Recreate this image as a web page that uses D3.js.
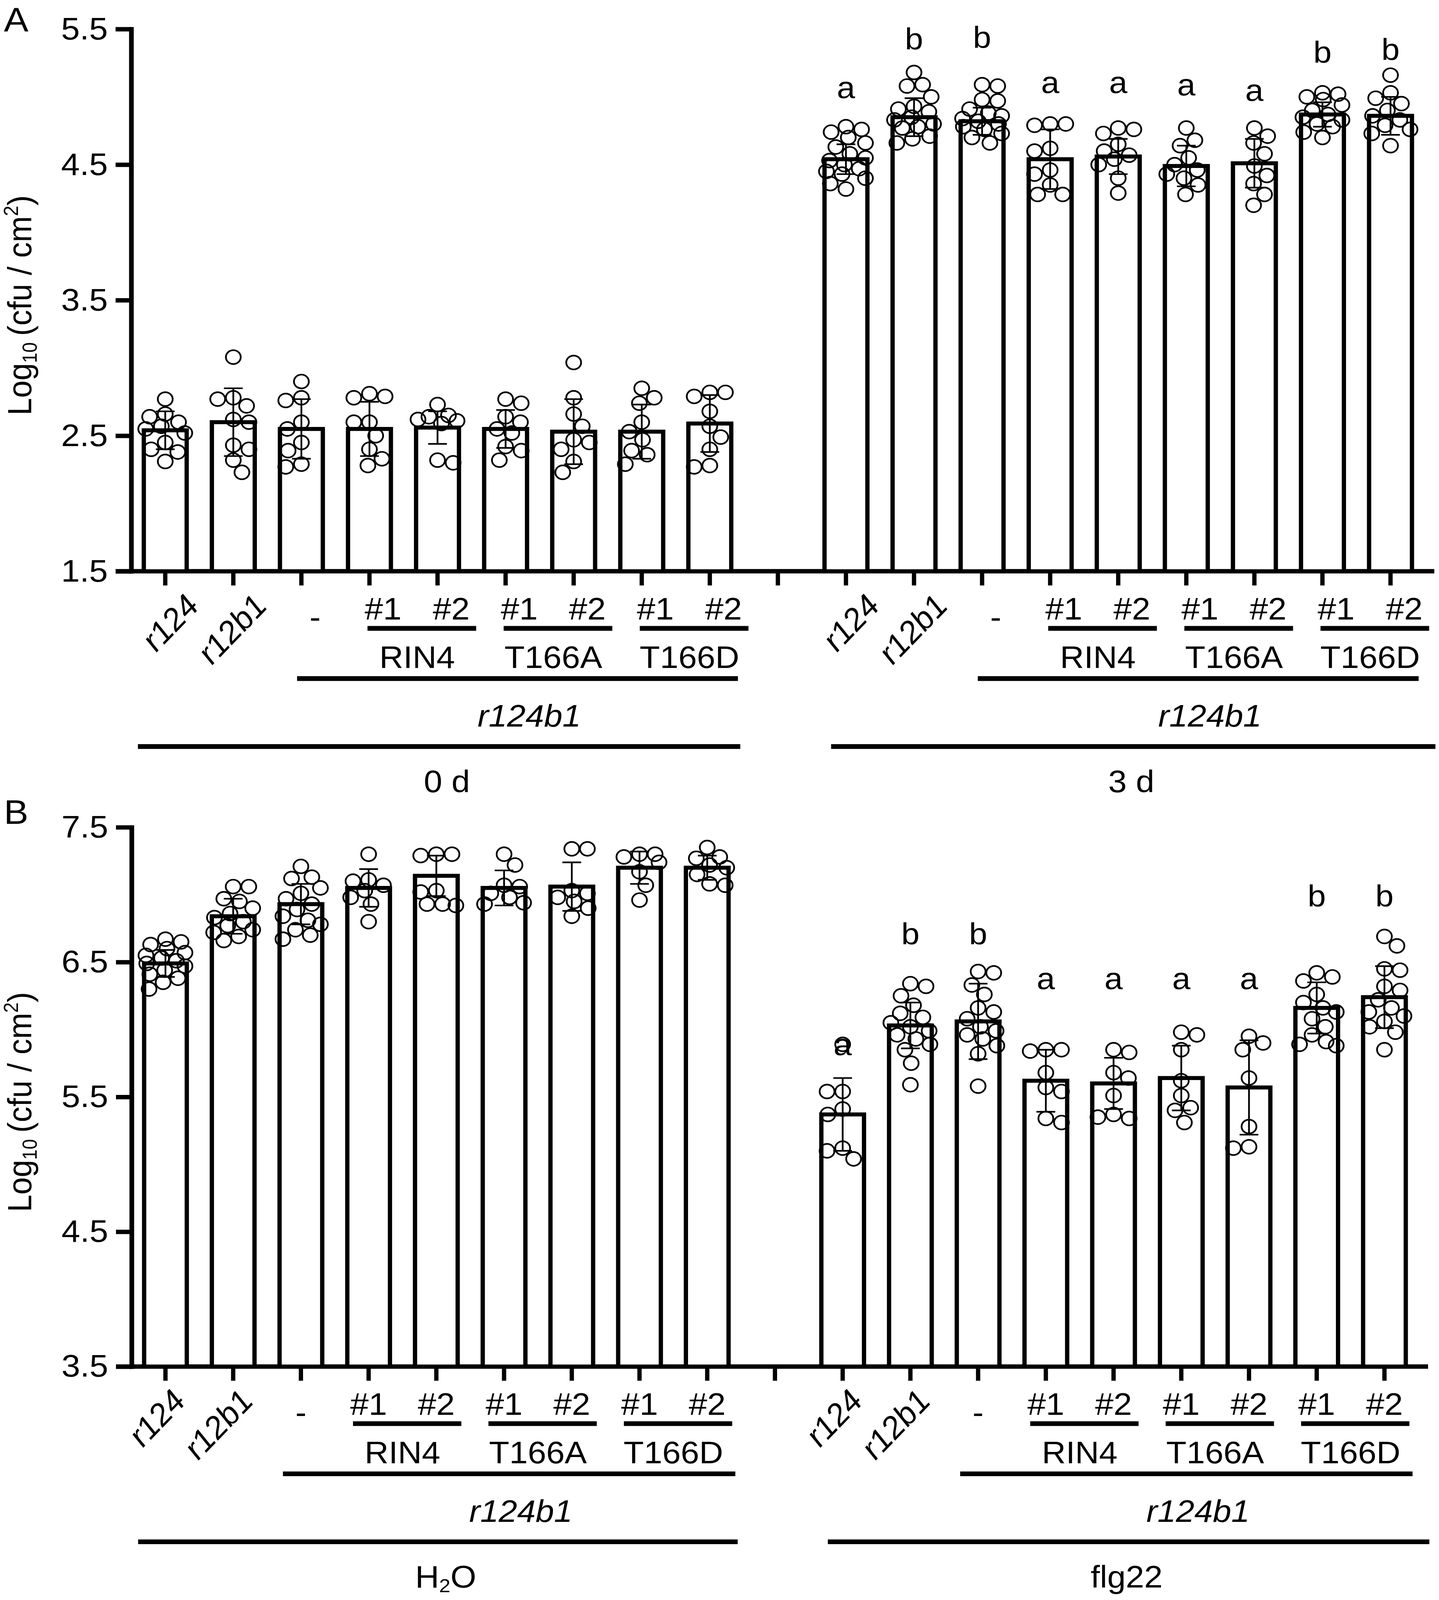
<!DOCTYPE html>
<html>
<head>
<meta charset="utf-8">
<script src="https://cdn.jsdelivr.net/npm/d3@7"></script>
<style>
  html, body { margin: 0; padding: 0; background: #fff; overflow: hidden; }
  svg { display: block; }
  text { font-family: "Liberation Sans", Arial, Helvetica, sans-serif; fill: #000; }
</style>
</head>
<body>
<div id="fig"></div>
<script>

// ======================= //
// DATA
// ======================= //

// categories (same 9 genotypes on each side of the gap)
var groups = ["r124", "r12b1", "-", "RIN4 #1", "RIN4 #2", "T166A #1", "T166A #2", "T166D #1", "T166D #2"]
var slots = groups.map(function(g){ return "L " + g }).concat(["gap"], groups.map(function(g){ return "R " + g }))
var constructs = ["RIN4", "T166A", "T166D"]
var lineLabels = ["#1", "#2"]

// tick labels
var ticksA = [1.5, 2.5, 3.5, 4.5, 5.5]
var ticksB = [3.5, 4.5, 5.5, 6.5, 7.5]

// panel A, 0 d
var meanA0 = [2.54, 2.60, 2.55, 2.55, 2.56, 2.55, 2.53, 2.53, 2.59]
var sdA0 = [0.14, 0.25, 0.22, 0.20, 0.12, 0.14, 0.24, 0.20, 0.21]
var ptsA0 = [
  [2.77, 2.66, 2.64, 2.60, 2.57, 2.55, 2.52, 2.45, 2.40, 2.38, 2.31],
  [3.08, 2.78, 2.77, 2.72, 2.62, 2.60, 2.43, 2.40, 2.32, 2.23],
  [2.90, 2.78, 2.76, 2.60, 2.55, 2.45, 2.39, 2.29, 2.27],
  [2.81, 2.79, 2.78, 2.60, 2.60, 2.50, 2.40, 2.33, 2.28],
  [2.73, 2.65, 2.64, 2.62, 2.61, 2.59, 2.32, 2.30],
  [2.77, 2.74, 2.64, 2.60, 2.55, 2.52, 2.42, 2.39, 2.32],
  [3.04, 2.78, 2.66, 2.57, 2.47, 2.45, 2.40, 2.31, 2.23],
  [2.85, 2.78, 2.74, 2.60, 2.53, 2.47, 2.39, 2.36, 2.29],
  [2.82, 2.82, 2.79, 2.68, 2.57, 2.49, 2.40, 2.28, 2.27]
]

// panel A, 3 d
var meanA3 = [4.54, 4.85, 4.82, 4.54, 4.56, 4.49, 4.51, 4.87, 4.86]
var sdA3 = [0.11, 0.14, 0.10, 0.22, 0.13, 0.15, 0.18, 0.09, 0.14]
var ptsA3 = [
  [4.78, 4.76, 4.74, 4.70, 4.66, 4.63, 4.58, 4.55, 4.53, 4.50, 4.47, 4.45, 4.43, 4.40, 4.36, 4.32],
  [5.18, 5.09, 5.08, 5.00, 4.93, 4.91, 4.89, 4.85, 4.83, 4.80, 4.78, 4.77, 4.71, 4.69, 4.66],
  [5.09, 5.08, 4.98, 4.97, 4.91, 4.88, 4.86, 4.84, 4.82, 4.80, 4.78, 4.76, 4.73, 4.70, 4.66],
  [4.80, 4.80, 4.79, 4.62, 4.60, 4.46, 4.43, 4.35, 4.28, 4.28],
  [4.77, 4.76, 4.73, 4.65, 4.60, 4.57, 4.54, 4.50, 4.40, 4.29],
  [4.77, 4.68, 4.64, 4.55, 4.50, 4.46, 4.43, 4.40, 4.35, 4.28],
  [4.77, 4.71, 4.66, 4.58, 4.49, 4.42, 4.36, 4.28, 4.20],
  [5.03, 5.02, 5.00, 4.98, 4.94, 4.90, 4.87, 4.85, 4.83, 4.80, 4.78, 4.74, 4.70],
  [5.16, 5.03, 4.99, 4.95, 4.90, 4.86, 4.83, 4.79, 4.76, 4.73, 4.64]
]
var lettersA3 = ["a", "b", "b", "a", "a", "a", "a", "b", "b"]
var letterValA3 = [4.99, 5.35, 5.36, 5.03, 5.03, 5.01, 4.97, 5.25, 5.27]

// panel B, H2O
var meanBw = [6.49, 6.84, 6.93, 7.05, 7.14, 7.05, 7.06, 7.20, 7.20]
var sdBw = [0.10, 0.13, 0.15, 0.14, 0.15, 0.13, 0.18, 0.12, 0.09]
var ptsBw = [
  [6.67, 6.65, 6.63, 6.60, 6.57, 6.55, 6.53, 6.51, 6.49, 6.47, 6.44, 6.41, 6.38, 6.35, 6.30],
  [7.06, 7.06, 6.97, 6.95, 6.90, 6.86, 6.83, 6.80, 6.77, 6.74, 6.72, 6.69, 6.66],
  [7.21, 7.13, 7.12, 7.05, 7.01, 6.97, 6.93, 6.89, 6.84, 6.81, 6.78, 6.74, 6.70, 6.67],
  [7.30, 7.11, 7.10, 7.07, 7.03, 6.98, 6.93, 6.80],
  [7.30, 7.30, 7.29, 7.03, 7.02, 6.93, 6.93, 6.92],
  [7.30, 7.22, 7.07, 7.06, 7.01, 6.98, 6.94, 6.93],
  [7.34, 7.34, 7.03, 7.01, 6.98, 6.95, 6.90, 6.84],
  [7.30, 7.30, 7.28, 7.24, 7.17, 7.07, 6.96],
  [7.35, 7.28, 7.27, 7.22, 7.20, 7.15, 7.08, 7.07]
]

// panel B, flg22
var meanBf = [5.37, 6.03, 6.06, 5.62, 5.60, 5.64, 5.57, 6.16, 6.24]
var sdBf = [0.27, 0.17, 0.28, 0.23, 0.19, 0.24, 0.35, 0.19, 0.23]
var ptsBf = [
  [5.89, 5.54, 5.54, 5.41, 5.37, 5.12, 5.10, 5.04],
  [6.34, 6.32, 6.25, 6.18, 6.12, 6.09, 6.05, 6.02, 5.99, 5.96, 5.93, 5.89, 5.85, 5.75, 5.59],
  [6.43, 6.42, 6.33, 6.26, 6.16, 6.13, 6.08, 6.02, 5.99, 5.96, 5.93, 5.88, 5.82, 5.58],
  [5.85, 5.85, 5.84, 5.68, 5.57, 5.54, 5.34, 5.31],
  [5.85, 5.83, 5.68, 5.64, 5.51, 5.37, 5.35, 5.34],
  [5.98, 5.96, 5.85, 5.62, 5.51, 5.42, 5.40, 5.31],
  [5.95, 5.90, 5.85, 5.64, 5.28, 5.13, 5.12],
  [6.42, 6.39, 6.36, 6.26, 6.20, 6.16, 6.13, 6.08, 6.02, 5.96, 5.91, 5.89, 5.88],
  [6.69, 6.62, 6.45, 6.44, 6.32, 6.29, 6.22, 6.16, 6.13, 6.10, 6.06, 6.02, 5.98, 5.85]
]
var lettersBf = ["a", "b", "b", "a", "a", "a", "a", "b", "b"]
var letterValBf = [5.81, 6.63, 6.63, 6.30, 6.30, 6.30, 6.30, 6.91, 6.91]


// ======================= //
// SVG AREA
// ======================= //

// the figure is laid out on a 3685 x 4400 sheet and stretched to the visible window
var W = 3685, H = 4400
var svg = d3.select("#fig")
  .append("svg")
    .attr("viewBox", "0 0 " + W + " " + H)
    .attr("preserveAspectRatio", "none")
    .attr("width", window.innerWidth || W)
    .attr("height", window.innerHeight || H)
svg.append("rect").attr("width", W).attr("height", H).attr("fill", "#fff")

var panels = [
  { letter: "A", letterY: 87, yDomain: [1.5, 5.5], yRange: [1571, 80], xRange: [336, 3648], ticks: ticksA, shift: 35,
    sides: [
      { side: "L", title: ["0 d"], mean: meanA0, sd: sdA0, pts: ptsA0 },
      { side: "R", title: ["3 d"], mean: meanA3, sd: sdA3, pts: ptsA3, letters: lettersA3, letterVal: letterValA3 }
    ] },
  { letter: "B", letterY: 2266, yDomain: [3.5, 7.5], yRange: [3758, 2275], xRange: [337, 3632], ticks: ticksB, shift: 0,
    sides: [
      { side: "L", title: ["H", "2", "O"], mean: meanBw, sd: sdBw, pts: ptsBw },
      { side: "R", title: ["flg22"], mean: meanBf, sd: sdBf, pts: ptsBf, letters: lettersBf, letterVal: letterValBf }
    ] }
]

var FS = 86


// simple beeswarm: spread overlapping points sideways, inside the bar
function swarm(vals, y, r, maxW) {
  var placed = []
  var order = vals.map(function(v){ return { v: v, py: y(v) } })
    .sort(function(a, b){ return a.py - b.py })
  order.forEach(function(p, i) {
    var best = 0, bestCost = Infinity
    for (var k = 0; k <= maxW; k += 2) {
      var cands = k === 0 ? [0] : (i % 2 ? [k, -k] : [-k, k])
      cands.forEach(function(dx) {
        var cost = 0
        placed.forEach(function(q) {
          var d = Math.hypot(dx - q.dx, p.py - q.py)
          if (d < 2 * r) cost += 2 * r - d
        })
        if (cost < bestCost) { bestCost = cost; best = dx }
      })
      if (bestCost === 0) break
    }
    p.dx = best
    placed.push(p)
  })
  return placed
}


function drawPanel(p) {

  var g = svg.append("g")

  // ======================= //
  // AXIS and SCALES
  // ======================= //

  var x = d3.scaleBand()
    .domain(slots)
    .range(p.xRange)
    .paddingInner(0.37)
    .paddingOuter(0.185)
  var y = d3.scaleLinear()
    .domain(p.yDomain)
    .range(p.yRange)
  var base = p.yRange[0]
  var cx = function(side, i) { return x(side + " " + groups[i]) + x.bandwidth() / 2 }

  // y axis
  var ya = g.append("g")
    .attr("transform", "translate(" + p.xRange[0] + ",0)")
    .call(d3.axisLeft(y).tickValues(p.ticks).tickSize(40).tickSizeOuter(0).tickPadding(20).tickFormat(d3.format(".1f")))
  ya.attr("font-family", null).attr("font-size", null)
  ya.select(".domain").attr("stroke", "#000").attr("stroke-width", 12).attr("stroke-linecap", "square")
  ya.selectAll(".tick line").attr("stroke", "#000").attr("stroke-width", 12)
  ya.selectAll(".tick text").attr("font-size", FS).attr("fill", "#000")

  // x axis: ticks only, the line is drawn longer by hand
  var xa = g.append("g")
    .attr("transform", "translate(0," + base + ")")
    .call(d3.axisBottom(x).tickSize(39).tickSizeOuter(0).tickFormat(""))
  xa.select(".domain").remove()
  xa.selectAll(".tick text").remove()
  xa.selectAll(".tick line").attr("stroke", "#000").attr("stroke-width", 11)
  g.append("line")
    .attr("x1", p.xRange[0] - 40).attr("x2", p.xRange[1] + 25)
    .attr("y1", base).attr("y2", base)
    .attr("stroke", "#000").attr("stroke-width", 12)

  // y label
  var yl = g.append("text")
    .attr("transform", "translate(80," + ((p.yRange[0] + p.yRange[1]) / 2 + 14) + ")rotate(-90)")
    .attr("text-anchor", "middle")
    .attr("font-size", FS)
  yl.append("tspan").text("Log")
  yl.append("tspan").text("10").attr("font-size", FS * 0.6).attr("dy", 14)
  yl.append("tspan").text("\u2009(cfu / cm").attr("dy", -14)
  yl.append("tspan").text("2").attr("font-size", FS * 0.6).attr("dy", -34)
  yl.append("tspan").text(")").attr("dy", 34)

  // panel letter
  svg.append("text").attr("x", 10).attr("y", p.letterY).attr("font-size", 94).text(p.letter)


  // ======================= //
  // SHAPES
  // ======================= //

  p.sides.forEach(function(s) {
    var data = groups.map(function(gname, i) {
      return { i: i, key: s.side + " " + gname, mean: s.mean[i], sd: s.sd[i], pts: s.pts[i] }
    })

    // bars
    g.selectAll(null)
      .data(data)
      .enter()
      .append("rect")
        .attr("x", function(d){ return x(d.key) })
        .attr("y", function(d){ return y(d.mean) })
        .attr("width", x.bandwidth())
        .attr("height", function(d){ return base - y(d.mean) })
        .attr("fill", "#fff")
        .attr("stroke", "#000")
        .attr("stroke-width", 11)

    // error bars (mean +/- SD)
    var eb = g.selectAll(null)
      .data(data)
      .enter()
      .append("g")
        .attr("stroke", "#000")
        .attr("stroke-width", 4.5)
    eb.append("line")
      .attr("x1", function(d){ return cx(s.side, d.i) })
      .attr("x2", function(d){ return cx(s.side, d.i) })
      .attr("y1", function(d){ return y(d.mean - d.sd) })
      .attr("y2", function(d){ return y(d.mean + d.sd) })
    eb.selectAll(null)
      .data(function(d){ return [d.mean - d.sd, d.mean + d.sd].map(function(v){ return { v: v, i: d.i } }) })
      .enter()
      .append("line")
        .attr("x1", function(d){ return cx(s.side, d.i) - 24 })
        .attr("x2", function(d){ return cx(s.side, d.i) + 24 })
        .attr("y1", function(d){ return y(d.v) })
        .attr("y2", function(d){ return y(d.v) })

    // individual points
    data.forEach(function(d) {
      var sw = swarm(d.pts, y, 20, 50)
      g.selectAll(null)
        .data(sw)
        .enter()
        .append("circle")
          .attr("cx", function(q){ return cx(s.side, d.i) + q.dx })
          .attr("cy", function(q){ return q.py })
          .attr("r", 19)
          .attr("fill", "none")
          .attr("stroke", "#000")
          .attr("stroke-width", 4.5)
    })

    // significance letters
    if (s.letters) {
      g.selectAll(null)
        .data(s.letters)
        .enter()
        .append("text")
          .attr("x", function(d, i){ return cx(s.side, i) })
          .attr("y", function(d, i){ return y(s.letterVal[i]) })
          .attr("text-anchor", "middle")
          .attr("font-size", 84)
          .text(function(d){ return d })
    }


    // ======================= //
    // GROUP LABELS
    // ======================= //

    var sh = p.shift

    // rotated italic genotype labels
    g.selectAll(null)
      .data([0, 1])
      .enter()
      .append("text")
        .attr("transform", function(i){ return "translate(" + (cx(s.side, i) + 56 + sh) + "," + (base + 98) + ")rotate(-48)" })
        .attr("text-anchor", "end")
        .attr("font-style", "italic")
        .attr("font-size", 85)
        .text(function(i){ return groups[i] })

    // "-"
    g.append("text")
      .attr("x", cx(s.side, 2) + sh)
      .attr("y", base + 155)
      .attr("text-anchor", "middle")
      .attr("font-size", 85)
      .text("-")

    // #1 / #2 under each construct, with underline and construct name
    constructs.forEach(function(c, k) {
      var i1 = 3 + 2 * k, i2 = 4 + 2 * k
      g.selectAll(null)
        .data([i1, i2])
        .enter()
        .append("text")
          .attr("x", function(i){ return cx(s.side, i) + sh })
          .attr("y", base + 133)
          .attr("text-anchor", "middle")
          .attr("font-size", 85)
          .text(function(i, j){ return lineLabels[j] })
      g.append("line")
        .attr("x1", cx(s.side, i1) - 40 + sh).attr("x2", cx(s.side, i2) + 64 + sh)
        .attr("y1", base + 157).attr("y2", base + 157)
        .attr("stroke", "#000").attr("stroke-width", 13)
      g.append("text")
        .attr("x", (cx(s.side, i1) + cx(s.side, i2)) / 2 + sh)
        .attr("y", base + 266)
        .attr("text-anchor", "middle")
        .attr("font-size", 85)
        .text(c)
    })

    // r124b1 background line
    var lx1 = cx(s.side, 2) - 46 + sh, lx2 = cx(s.side, 8) + 72
    g.append("line")
      .attr("x1", lx1).attr("x2", lx2)
      .attr("y1", base + 295).attr("y2", base + 295)
      .attr("stroke", "#000").attr("stroke-width", 13)
    g.append("text")
      .attr("x", (lx1 + lx2) / 2 + 30)
      .attr("y", base + 427)
      .attr("text-anchor", "middle")
      .attr("font-style", "italic")
      .attr("font-size", 85)
      .text("r124b1")

    // treatment line and title
    var bx1 = s.side === "L" ? cx(s.side, 0) - 70 : cx(s.side, 0) - 38
    var bx2 = s.side === "L" ? cx(s.side, 8) + 78 : cx(s.side, 8) + 115
    g.append("line")
      .attr("x1", bx1).attr("x2", bx2)
      .attr("y1", base + 482).attr("y2", base + 482)
      .attr("stroke", "#000").attr("stroke-width", 13)
    var tt = g.append("text")
      .attr("x", (bx1 + bx2) / 2 + (s.side === "L" ? 20 : -5))
      .attr("y", base + 608)
      .attr("text-anchor", "middle")
      .attr("font-size", 85)
    if (s.title.length === 3) {
      tt.append("tspan").text(s.title[0])
      tt.append("tspan").text(s.title[1]).attr("font-size", 52).attr("dy", 13)
      tt.append("tspan").text(s.title[2]).attr("dy", -13)
    } else {
      tt.text(s.title[0])
    }
  })
}

panels.forEach(drawPanel)

</script>
</body>
</html>
